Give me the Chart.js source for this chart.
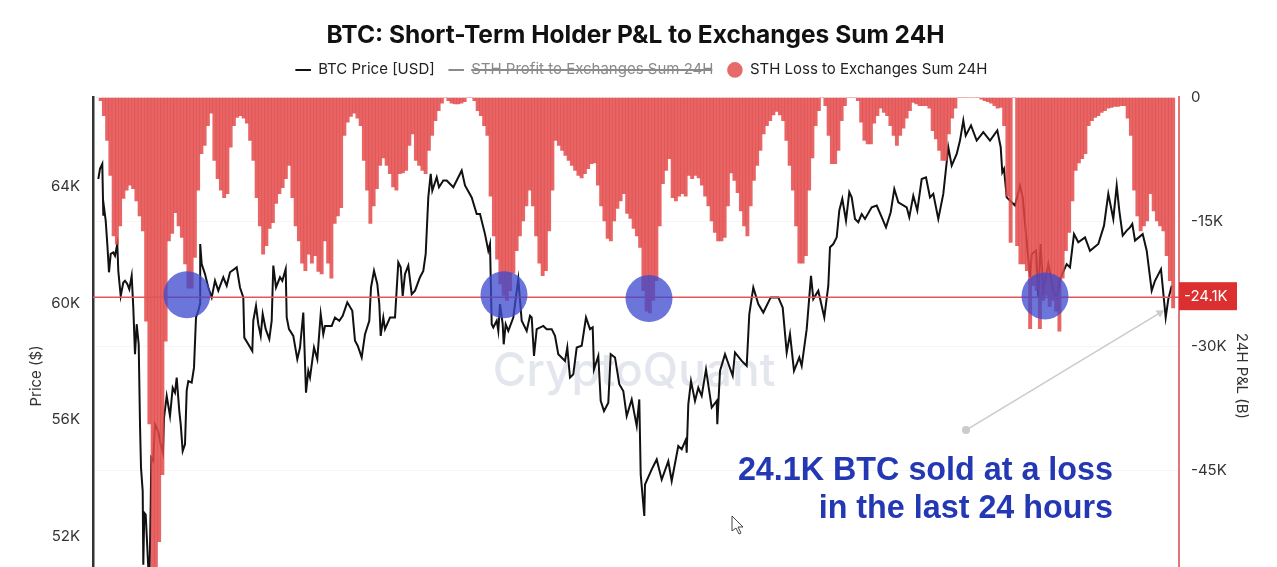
<!DOCTYPE html>
<html>
<head>
<meta charset="utf-8">
<title>BTC: Short-Term Holder P&amp;L to Exchanges Sum 24H</title>
<script src="https://cdn.jsdelivr.net/npm/chart.js@4"></script>
<style>
  html, body { margin: 0; padding: 0; background: #fff; overflow: hidden; }
  #wrap { width: 1277px; height: 567px; overflow: hidden; }
</style>
</head>
<body>
<div id="wrap"><canvas id="chart" width="1277" height="678"></canvas></div>
<script>
// 刻度
const priceTicks = [52, 56, 60, 64];
const lossTicks = [0, -15, -30, -45];

// STH Loss, thousand BTC, one bar per period
const lossValues = [
  -0.4, -2.2, -5.2, -9.4, -16.7, -17.7, -15.5, -12.2, -11.2, -10.6, -11, -12.5, -14.3, -16.1, -27, -39.4,
  -58, -58, -53.6, -45.5, -29.4, -17.3, -16.4, -13.9, -15.5, -16.9, -20.1, -23, -23, -19.3, -11.2, -6.8,
  -5.8, -3.4, -1.9, -7.6, -9.8, -11.2, -12.1, -11.6, -6, -3.4, -2.4, -2.2, -2.5, -3.1, -5.2, -7.6,
  -12.1, -15.5, -18.9, -17.9, -15.8, -15.1, -12.8, -11.6, -10.9, -9.8, -8.2, -12.1, -15.5, -17.3, -20, -20.9,
  -18.9, -20, -19.1, -21, -21.3, -17.3, -20, -21.8, -15.2, -14.3, -13.3, -4.6, -3, -2.3, -1.9, -2.5,
  -3.4, -7.6, -11.2, -15.2, -13.1, -11, -8.2, -7.3, -8.2, -9.2, -10.8, -11.2, -9.2, -9.1, -8.8, -5.8,
  -4.4, -7.6, -8.2, -8.8, -9.2, -6.4, -4.6, -2.8, -1.6, -0.7, 0, -0.4, -0.7, -0.8, -0.8, -0.7,
  -0.5, 0, 0, -0.4, -1.6, -2.2, -3.4, -4.6, -11.9, -16.7, -19.5, -22.5, -23.9, -24.5, -23.3, -21.2,
  -18.5, -16.7, -14.9, -13.1, -11.2, -13.1, -16.7, -20, -21.5, -20.9, -16.1, -11.2, -5.2, -5.8, -6.4, -7,
  -7.6, -8.2, -8.8, -9.4, -9.7, -9.2, -8.6, -8, -7.9, -10.6, -13.1, -14.9, -17, -17.3, -14.9, -13.4,
  -12.5, -11.6, -14, -14.6, -15.8, -16.7, -18.1, -23.3, -25.8, -26, -24.5, -22.1, -15.5, -10.4, -8.8, -7.4,
  -12.1, -12.5, -11.9, -11.6, -11.9, -9.4, -9.8, -9.4, -9.7, -10.6, -11.9, -13.1, -14.9, -16.3, -17.3, -17.3,
  -16.9, -13.1, -9.1, -10, -11.5, -13.7, -15.5, -16.7, -13.1, -10, -8.2, -6.4, -4.4, -3.4, -2.8, -2.1,
  -1.7, -2.1, -2.8, -5.2, -8.2, -11.2, -15.5, -20, -20, -19.1, -11.2, -7.3, -3.4, -1.6, 0, -1,
  -4.6, -8, -8, -6.4, -2.8, -1, 0, 0, 0, -0.4, -3, -5.2, -5.6, -5.6, -3.1, -2.2,
  -1.3, -1.8, -2.2, -3.4, -4.6, -5.8, -4.6, -3.7, -2.5, -1.6, -0.6, -0.8, -1, -1, -1, -1.3,
  -4, -5, -6.4, -7.6, -7.6, -4.4, -2.5, -1.3, 0, 0, 0, 0, 0, 0, 0, -0.2,
  -0.4, -0.5, -0.7, -1, -1.3, -1.2, -3.4, -11.9, -17.5, 0, -17.9, -20.1, -20.1, -20.9, -27.9, -22.7,
  -23.3, -27.9, -24.5, -23.9, -25.2, -24.5, -25.8, -28.2, -21.8, -18.5, -16.3, -12.5, -8.8, -7.9, -7.4, -6.8,
  -3.4, -2.8, -2.4, -2.2, -1.8, -1.6, -1.3, -1.2, -1.1, -1.1, -1, -1, -2.5, -4.6, -11.2, -14.3,
  -16.1, -15.5, -14.9, -11.6, -13.7, -14.9, -15.5, -16.1, -19.1, -22.1, -25.4
];

// BTC price, hours from the left edge of the plot
const priceHours = [
  5.3, 7, 9.3, 10.3, 11, 12.7, 14.3, 16, 17.7, 20.3, 22, 24.3, 25.3, 27.7, 30.3, 32, 34.3, 36.3, 38.7, 40.3,
  42, 43.7, 45.7, 47, 48, 49.7, 50.3, 51.3, 52.7, 55.3, 56.3, 57.7, 58.3, 60.3, 62, 65.3, 67.7, 70, 71, 73.7,
  77, 79.7, 82, 83.7, 86.3, 87.7, 89.7, 92, 93.7, 95.3, 98.7, 101, 103, 105.3, 107, 107.2, 108.7, 112, 115.3, 118.7,
  122, 125.3, 130.3, 133.7, 137, 143.7, 147, 150.3, 151.3, 155.3, 159.3, 160.3, 163, 165.3, 167.7, 169.7, 172.7, 176.3, 178.7, 180.3,
  183, 187, 189.3, 192.7, 193.7, 196, 200.3, 204.3, 207, 210.3, 213, 215.3, 217, 221, 224.3, 227.7, 230.3, 232, 238.7, 242,
  246.3, 249.7, 254.3, 259.3, 262, 264.7, 268.7, 272, 276.3, 278, 281, 284.3, 286.3, 287.7, 290.3, 292, 297, 302, 305.3, 307.7,
  309.7, 312, 315.3, 318.7, 322, 327, 330.3, 332.7, 335.3, 337.7, 339.3, 343.7, 346, 350.3, 353.7, 360.3, 368.7, 372, 378.7, 383.7,
  387, 392, 395.3, 397, 398.7, 400.3, 403.7, 405.3, 407, 409.7, 410.7, 412.7, 415.3, 420.3, 425.3, 428.7, 433.7, 437, 438.7, 441,
  443.7, 450.3, 453.7, 458.7, 462, 465.3, 472, 474.3, 477, 480.3, 483.7, 488.7, 493, 497, 499.7, 501, 505.3, 507.7, 511, 515.3,
  517.7, 522, 526.3, 530.3, 533.7, 538.7, 543.7, 546.3, 547.7, 551.3, 552, 558.7, 563.7, 568.7, 575.3, 578.7, 585.3, 588.7, 593, 593.7,
  595.3, 598, 602, 605.3, 608.7, 613, 618.7, 623.7, 624.3, 627, 632, 639.7, 642, 648.7, 653.7, 656.3, 660.3, 665.3, 670.3, 677.7,
  685.3, 689.7, 693.7, 697, 701, 706.3, 708.7, 713.7, 718, 720.3, 725.3, 731.3, 735.3, 737, 740.3, 743.7, 746.3, 749.3, 753, 756.3,
  758.7, 762, 765.3, 768.7, 772, 778.7, 783.7, 788.7, 793, 797.7, 801.3, 805.3, 813.7, 816.3, 820.3, 824.3, 828.7, 833, 837, 840.3,
  845.3, 850.3, 855.3, 858.7, 863.7, 867, 870.3, 872.7, 878, 883.7, 890.3, 897, 904.3, 907.7, 909.3, 911, 913.7, 922, 927, 929.7,
  933, 937, 938.7, 943, 945.3, 947.7, 950.3, 955.3, 960.3, 963.7, 967.7, 973.7, 977, 981, 985.3, 992, 997, 1005.3, 1011, 1015.3,
  1020.3, 1023.7, 1026.3, 1029.7, 1033.7, 1037, 1039.3, 1042, 1049.7, 1053.7, 1058.7, 1062, 1068, 1072.7, 1075.3, 1078.7
];
const priceValues = [
  64.26, 64.61, 64.78, 63, 63.29, 62.83, 62.03, 61.06, 61.69, 61.74, 61.63, 62.03, 61.11, 60.25, 60.71, 60.77, 60.66, 60.48, 60.94, 59.85,
  58.25, 59.28, 58.59, 55.85, 54.36, 53.55, 51.03, 52.81, 52.75, 50.92, 50.12, 53.1, 54.7, 54.6, 55.85, 55.6, 55.16, 54.87, 56.07, 56.82,
  56.13, 57.1, 56.93, 57.45, 56.3, 55.85, 54.93, 55.16, 57, 57.33, 57.28, 57.79, 59.51, 59.74, 59.97, 62.03, 61.34, 61, 60.54, 60.2,
  60.77, 60.43, 60.89, 60.6, 61.06, 61.23, 60.54, 60.2, 58.82, 58.59, 58.36, 59.4, 59.91, 59.28, 58.88, 59.63, 59.11, 58.77, 59.4, 61.29,
  60.54, 60.89, 60.77, 61.17, 59.51, 59.11, 58.88, 58.08, 58.48, 59.68, 56.93, 57.68, 57.45, 58.48, 58.08, 59.63, 58.94, 59.22, 59.22, 59.51,
  59.4, 59.57, 60.03, 59.74, 58.71, 58.54, 58.14, 58.94, 59.4, 60.54, 61.11, 60.66, 59.97, 58.88, 59.51, 59.11, 59.51, 59.51, 61.4, 61.23,
  60.25, 61, 61.29, 60.31, 60.43, 60.89, 61.11, 61.69, 63.63, 64.44, 63.86, 64.32, 63.98, 64.21, 64.21, 63.98, 64.55, 64.04, 63.63, 63.06,
  63.06, 62.37, 61.8, 62.03, 59.28, 59.17, 59.4, 59.05, 59.97, 59.28, 58.59, 59.28, 59.05, 59.51, 60.83, 59.4, 59.05, 59.57, 59.51, 58.19,
  59.11, 59.22, 59.11, 59.11, 58.88, 58.25, 58.02, 58.48, 57.45, 57.56, 58.48, 58.54, 59.51, 59.11, 59.17, 57.73, 58.19, 56.65, 56.3, 56.59,
  58.25, 58.14, 57.22, 56.99, 56.13, 56.7, 55.79, 56.7, 54.13, 52.7, 53.78, 54.3, 54.64, 53.95, 54.58, 53.9, 55.1, 54.99, 55.33, 54.87,
  56.53, 57.33, 56.65, 57.1, 56.82, 57.73, 56.42, 56.65, 55.85, 57.68, 58.25, 57.51, 58.31, 58.02, 57.85, 59.63, 60.54, 59.97, 59.68, 60.2,
  60.2, 59.85, 58.31, 58.94, 57.68, 58.14, 57.85, 59.11, 60.94, 60.14, 60.43, 59.51, 60.6, 61.92, 62.03, 62.26, 63.18, 63.58, 62.83, 63.81,
  63.63, 62.89, 62.78, 63.06, 62.89, 63.29, 63.35, 62.95, 62.6, 63.12, 63.92, 63.46, 63.29, 62.95, 63.69, 63.18, 64.26, 64.32, 63.63, 63.75,
  62.89, 63.75, 65.35, 64.72, 65.12, 65.58, 66.27, 65.75, 66.1, 65.58, 65.87, 65.58, 65.93, 65.35, 64.49, 64.61, 63.63, 63.35, 64.03, 63.63,
  62.37, 60.89, 61.69, 61.8, 60.2, 62.03, 60.43, 61.34, 60.43, 60.2, 60.89, 61.34, 61.23, 62.37, 62.09, 62.26, 61.8, 62.03, 62.66, 63.75,
  62.89, 64.03, 63.18, 62.32, 62.49, 62.6, 62.72, 62.15, 62.37, 61.8, 60.43, 60.77, 61.17, 59.51, 60.14, 60.6
];

// 当前值 + 标注
const lossNow = -24.1;
const lineEndHours = [0, 1086];
const circleHours = [94, 411, 556, 952];
const circlePrices = [60.29, 60.29, 60.16, 60.25];
const arrowHours = [873, 1067];
const arrowPrices = [55.65, 59.67];
const noteLines = ['24.1K BTC sold at a loss', 'in the last 24 hours'];
const legendTexts = ['BTC Price [USD]', 'STH Profit to Exchanges Sum 24H', 'STH Loss to Exchanges Sum 24H'];

const lossColor = 'rgba(226, 72, 72, 0.84)';

// 水印、红色标签、文字标注、鼠标
const overlayPlugin = {
  id: 'overlay',
  afterLayout(chart) {
    chart.legend.top -= 10;
    chart.legend.bottom -= 10;
    chart.legend.left += 3;
    chart.legend.right += 3;
    chart.titleBlock.left -= 3;
    chart.titleBlock.right -= 3;
  },
  beforeDatasetsDraw(chart) {
    const ctx = chart.ctx;
    ctx.save();
    ctx.fillStyle = '#e4e6ee';
    ctx.font = '500 46px Inter';
    ctx.textAlign = 'center';
    ctx.textBaseline = 'middle';
    ctx.fillText('CryptoQuant', 634, 372);
    ctx.restore();
  },
  afterDraw(chart) {
    const ctx = chart.ctx;
    const axis = chart.scales.yLoss;
    const y = axis.getPixelForValue(lossNow);
    ctx.save();
    ctx.fillStyle = '#dc2f2f';
    ctx.fillRect(axis.left, y - 15, 58, 28);
    ctx.fillStyle = '#fff';
    ctx.font = '15px Inter';
    ctx.textBaseline = 'middle';
    ctx.fillText(lossNow + 'K', axis.left + 5, y - 1);

    ctx.fillStyle = '#2438b4';
    ctx.font = 'bold 32.3px "Liberation Sans"';
    ctx.textAlign = 'right';
    ctx.textBaseline = 'alphabetic';
    ctx.fillText(noteLines[0], 1113, 480);
    ctx.fillText(noteLines[1], 1113, 518);

    ctx.fillStyle = '#fff';
    ctx.strokeStyle = '#444';
    ctx.lineWidth = 1;
    ctx.beginPath();
    ctx.moveTo(732, 516);
    ctx.lineTo(732, 531);
    ctx.lineTo(736, 528);
    ctx.lineTo(739, 534);
    ctx.lineTo(741, 533);
    ctx.lineTo(738, 527);
    ctx.lineTo(743, 527);
    ctx.closePath();
    ctx.fill();
    ctx.stroke();
    ctx.restore();
  }
};

new Chart(document.getElementById('chart'), {
  type: 'bar',
  plugins: [overlayPlugin],
  data: {
    datasets: [
      {
        type: 'line',
        label: legendTexts[0],
        data: priceHours.map((h, i) => ({ x: h, y: priceValues[i] })),
        xAxisID: 'xPrice',
        yAxisID: 'yPrice',
        borderColor: '#111',
        borderWidth: 2,
        pointRadius: 0,
        tension: 0,
        order: 5
      },
      {
        type: 'line',
        label: legendTexts[1],
        data: [],
        xAxisID: 'xPrice',
        yAxisID: 'yLoss',
        hidden: true
      },
      {
        label: legendTexts[2],
        data: lossValues.map((v, i) => ({ x: i, y: v })),
        xAxisID: 'xLoss',
        yAxisID: 'yLoss',
        backgroundColor: lossColor,
        barThickness: 3.25,
        order: 4
      },
      {
        type: 'line',
        label: 'now',
        data: lineEndHours.map(h => ({ x: h, y: lossNow })),
        xAxisID: 'xPrice',
        yAxisID: 'yLoss',
        borderColor: '#e2555a',
        borderWidth: 1.5,
        pointRadius: 0,
        order: 3
      },
      {
        type: 'line',
        label: 'arrow',
        data: arrowHours.map((h, i) => ({ x: h, y: arrowPrices[i] })),
        xAxisID: 'xPrice',
        yAxisID: 'yPrice',
        borderColor: '#cbcbcb',
        borderWidth: 1.5,
        backgroundColor: '#cbcbcb',
        pointBackgroundColor: '#cbcbcb',
        pointBorderWidth: 0,
        pointStyle: ['circle', 'triangle'],
        pointRadius: [4, 5],
        pointRotation: [0, 59],
        order: 2
      },
      {
        type: 'scatter',
        label: 'circles',
        data: circleHours.map((h, i) => ({ x: h, y: circlePrices[i] })),
        xAxisID: 'xPrice',
        yAxisID: 'yPrice',
        backgroundColor: 'rgba(62, 74, 205, 0.76)',
        pointRadius: 23.5,
        pointBorderWidth: 0,
        order: 1
      }
    ]
  },
  options: {
    responsive: false,
    animation: false,
    events: [],
    layout: { padding: { top: 18 } },
    plugins: {
      tooltip: { enabled: false },
      title: {
        display: true,
        text: 'BTC: Short-Term Holder P&L to Exchanges Sum 24H',
        color: '#111',
        font: { family: 'Inter', size: 24.5, weight: 'bold' },
        padding: { top: 3, bottom: 8 }
      },
      legend: {
        display: true,
        onClick: null,
        labels: {
          font: { family: 'Inter', size: 15 },
          color: '#222',
          usePointStyle: true,
          boxHeight: 11,
          padding: 14,
          generateLabels() {
            return legendTexts.map((text, i) => ({
              text: text,
              hidden: i === 1,
              datasetIndex: i,
              fontColor: i === 1 ? '#8a8a8a' : '#222',
              fillStyle: i === 2 ? '#e66a6a' : '#111',
              strokeStyle: i === 0 ? '#111' : (i === 1 ? '#8a8a8a' : '#e66a6a'),
              lineWidth: i === 2 ? 0 : 2,
              pointStyle: i === 2 ? 'circle' : 'line'
            }));
          }
        }
      }
    },
    scales: {
      xLoss: { type: 'linear', display: false, offset: false, min: -1.85, max: 332.3 },
      xPrice: { type: 'linear', display: false, offset: false, min: 0, max: 1086 },
      yPrice: {
        position: 'left',
        min: 47.95,
        max: 67.06,
        afterFit(axis) { axis.width = 93; },
        afterBuildTicks(axis) { axis.ticks = priceTicks.map(v => ({ value: v })); },
        grid: { display: false },
        border: { color: '#333', width: 2.5 },
        ticks: { color: '#333', font: { family: 'Inter', size: 15 }, padding: 5, callback: v => v + 'K' },
        title: { display: true, text: 'Price ($)', color: '#333', font: { family: 'Inter', size: 15 }, padding: { top: 27, bottom: 0 } }
      },
      yLoss: {
        position: 'right',
        min: -67.2,
        max: 0,
        afterFit(axis) { axis.width = 98; },
        afterBuildTicks(axis) { axis.ticks = lossTicks.map(v => ({ value: v })); },
        grid: { color: '#f5f5f7', drawTicks: false },
        border: { color: '#e0757a', width: 2 },
        ticks: { color: '#333', font: { family: 'Inter', size: 15 }, padding: 12, callback: v => v === 0 ? '0' : v + 'K' },
        title: { display: true, text: '24H P&L (B)', color: '#333', font: { family: 'Inter', size: 15 }, padding: { top: 26, bottom: 0 } }
      }
    }
  }
});
</script>
</body>
</html>
